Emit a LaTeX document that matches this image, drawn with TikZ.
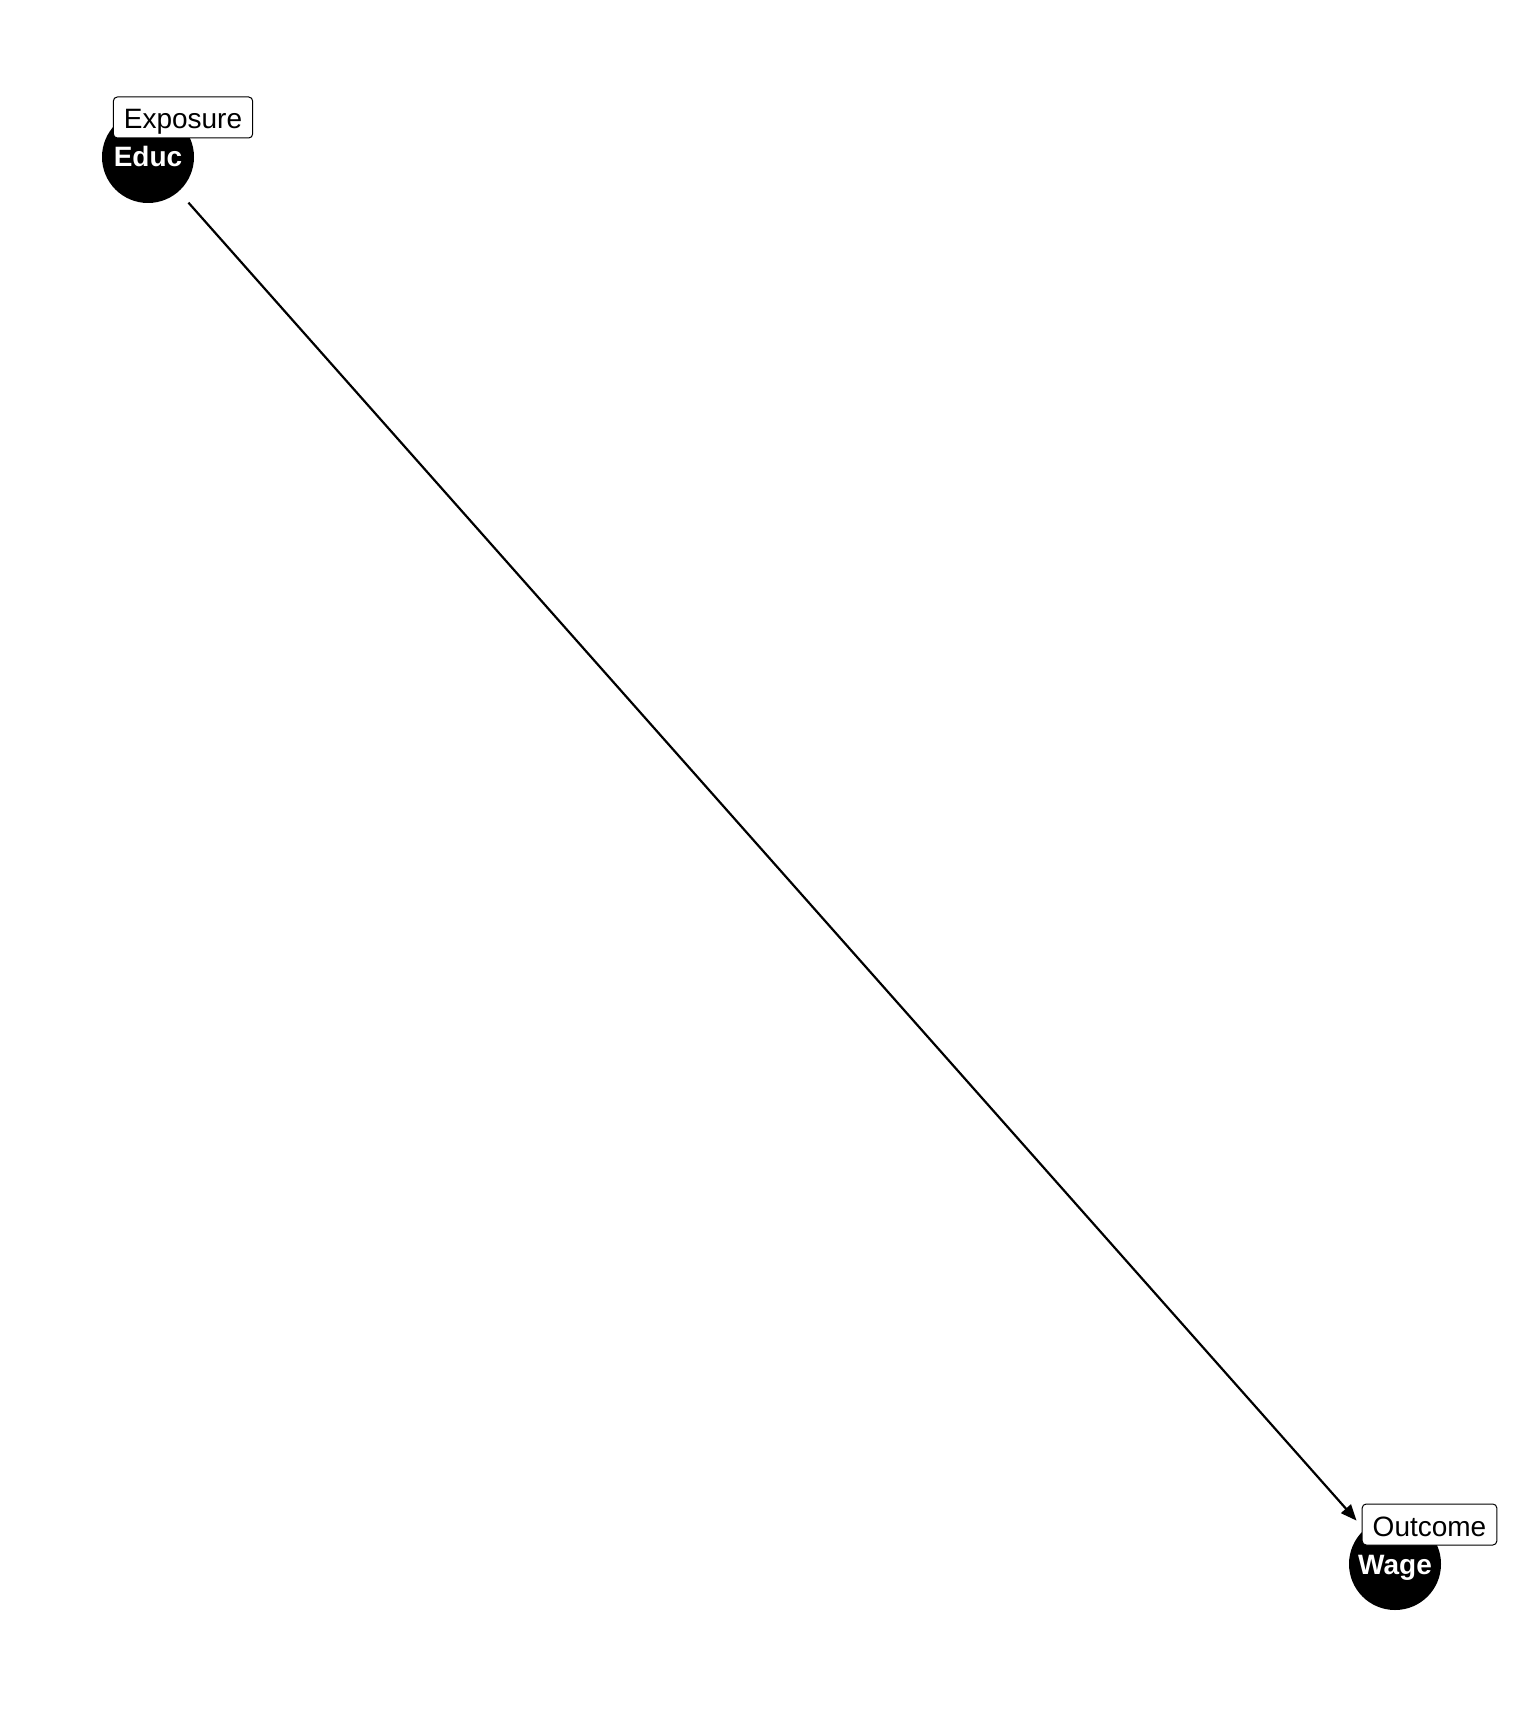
\documentclass[tikz,border=0pt]{standalone}
\usepackage{fontspec}
\setmainfont{Liberation Sans}
\usetikzlibrary{arrows.meta}
\tikzset{
  dagnode/.style={circle, fill=black, minimum size=92pt, inner sep=0pt, outer sep=0pt,
    text=white, text height=20pt, text depth=0pt, font=\fontsize{28}{33}\selectfont\bfseries},
  roletag/.style={draw=black, fill=white, rounded corners=4pt, line width=1pt,
    inner xsep=10.5pt, inner ysep=5pt, minimum height=41pt,
    text height=23pt, text depth=0pt, font=\fontsize{28}{33}\selectfont},
  dagedge/.style={line width=2.2pt, -{Triangle[length=16pt,width=13pt]}}
}
\begin{document}
\begin{tikzpicture}[x=1pt,y=-1pt]
\useasboundingbox (0,0) rectangle (1536,1728);
\node[dagnode] (educ) at (148,157) {Educ};
\node[dagnode] (wage) at (1395,1564) {Wage};
\draw[dagedge, shorten <=15pt, shorten >=12pt] (educ) -- (wage);
\node[roletag] (exp) at (183,117.5) {Exposure};
\node[roletag] (out) at (1429.5,1524.5) {Outcome};
\end{tikzpicture}
\end{document}
